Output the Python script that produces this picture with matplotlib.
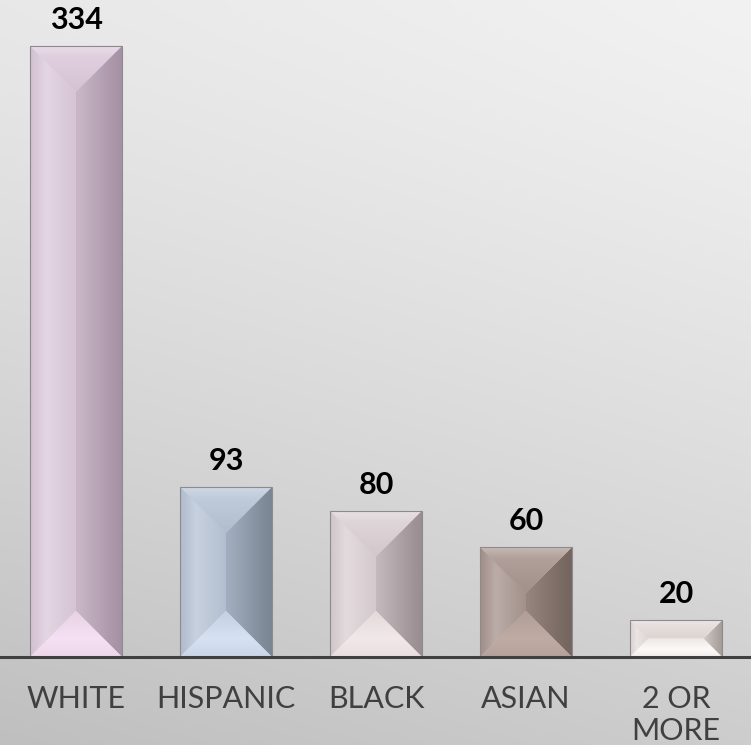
import numpy as np
import matplotlib
matplotlib.use("Agg")
import matplotlib.pyplot as plt
from matplotlib.patches import Polygon
from matplotlib.colors import to_rgb

# ---- data -------------------------------------------------------------
categories = ["WHITE", "HISPANIC", "BLACK", "ASIAN", "2 OR\nMORE"]
values = [334, 93, 80, 60, 20]

# per-bar palette: main face, shadowed side, highlighted lower bevel
base_colors = ["#dccadb", "#b8c4d6", "#dad0d3", "#a8958f", "#e4ddda"]
dark_colors = ["#a995a7", "#7f8a99", "#9e9297", "#786862", "#a8a09b"]
light_colors = ["#f6e0f4", "#d6e1f2", "#f1e8ea", "#bfaba4", "#fcf9f7"]

W, H, DPI = 751, 745, 100
fig = plt.figure(figsize=(W / DPI, H / DPI), dpi=DPI)

# ---- soft grey backdrop, brighter towards the upper right --------------
bg = fig.add_axes([0, 0, 1, 1], zorder=-10)
yy, xx = np.mgrid[0:1:300j, 0:1:300j]
v = 242 - 10 * (1 - xx) - 37 * yy ** 1.25 - 4 * (1 - xx) * yy
bg.imshow(np.dstack([v / 255.0] * 3), extent=(0, 1, 0, 1), aspect="auto",
          origin="upper", interpolation="bilinear")
bg.set_axis_off()

# ---- main axes ----------------------------------------------------------
ax = fig.add_axes([0, 88 / H, 1, 657 / H])
ax.set_facecolor("none")
ax.set_xlim(-0.507, 4.5)
ax.set_ylim(0, 359)

bars = ax.bar(range(len(values)), values, width=0.613, facecolor="none",
              edgecolor="#8e8a8e", linewidth=0.8, zorder=5)


def mix(c1, c2, f):
    a, b = np.array(to_rgb(c1)), np.array(to_rgb(c2))
    return tuple(a * (1 - f) + b * f)


def scale(c, k):
    return tuple(np.clip(np.array(to_rgb(c)) * k, 0, 1))


def grad_fill(poly_xy, extent, stops, horizontal):
    n = 256
    t = np.linspace(0, 1, n)
    pos = [p for p, _ in stops]
    cols = np.array([to_rgb(c) for _, c in stops])
    rgb = np.stack([np.interp(t, pos, cols[:, k]) for k in range(3)], axis=-1)
    img = rgb[None, :, :] if horizontal else rgb[:, None, :]
    patch = Polygon(poly_xy, closed=True, facecolor=stops[len(stops) // 2][1],
                    edgecolor="none", zorder=3)
    ax.add_patch(patch)
    im = ax.imshow(img, extent=extent, aspect="auto", origin="upper",
                   interpolation="bilinear", zorder=3)
    im.set_clip_path(patch)


# pixel size of one data unit, so the bevels run at 45 degrees on screen
p0 = ax.transData.transform((0, 0))
p1 = ax.transData.transform((1, 1))
sx, sy = p1[0] - p0[0], p1[1] - p0[1]

white = "#ffffff"
for rect, base, dark, light in zip(bars, base_colors, dark_colors, light_colors):
    x0 = rect.get_x()
    x1 = x0 + rect.get_width()
    y0 = rect.get_y()
    y1 = y0 + rect.get_height()
    w_px = rect.get_width() * sx
    h_px = rect.get_height() * sy
    b_px = min(w_px, h_px) / 2
    bx, by = b_px / sx, b_px / sy
    ix0, ix1, iy0, iy1 = x0 + bx, x1 - bx, y0 + by, y1 - by

    # left face
    grad_fill([(x0, y0), (ix0, iy0), (ix0, iy1), (x0, y1)], (x0, ix0, y0, y1),
              [(0, scale(base, 0.95)), (0.35, mix(base, white, 0.22)),
               (1, scale(base, 0.97))], True)
    # right face
    grad_fill([(x1, y0), (ix1, iy0), (ix1, iy1), (x1, y1)], (ix1, x1, y0, y1),
              [(0, mix(base, dark, 0.35)), (0.85, dark),
               (1, scale(dark, 0.97))], True)
    # top bevel
    grad_fill([(x0, y1), (x1, y1), (ix1, iy1), (ix0, iy1)], (x0, x1, iy1, y1),
              [(0, mix(base, white, 0.35)), (0.25, mix(base, white, 0.1)),
               (1, scale(base, 0.96))], False)
    # bottom bevel
    grad_fill([(x0, y0), (x1, y0), (ix1, iy0), (ix0, iy0)], (x0, x1, y0, iy0),
              [(0, mix(base, light, 0.4)), (0.6, light),
               (1, mix(light, base, 0.4))], False)

# value labels above each bar
for i, val in enumerate(values):
    ax.annotate(str(val), xy=(i, val), xytext=(0, 17), textcoords="offset pixels",
                ha="center", va="baseline", fontsize=22, fontweight="bold",
                family="Lato", color="black")

# category axis
ax.set_xticks(range(len(categories)))
ax.set_xticklabels(categories, fontsize=22, color="#404040", family="Lato")
ax.tick_params(axis="x", length=0, pad=20)
ax.set_yticks([])
for side in ("top", "right", "left"):
    ax.spines[side].set_visible(False)
ax.spines["bottom"].set_color("#404040")
ax.spines["bottom"].set_linewidth(2.2)
ax.spines["bottom"].set_zorder(6)

fig.savefig("out.png", dpi=DPI)
